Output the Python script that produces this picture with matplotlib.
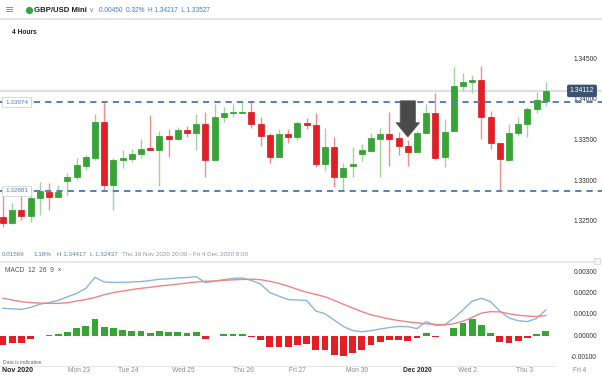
import matplotlib
matplotlib.use("Agg")
import matplotlib.pyplot as plt
import matplotlib.transforms as mtransforms
from matplotlib.patches import FancyArrow
import numpy as np

plt.rcParams['font.family'] = ['Liberation Sans', 'DejaVu Sans']

# ---------------- data ----------------
opens = [1.32561, 1.32487, 1.32647, 1.32573, 1.32795, 1.32868, 1.32807, 1.33004, 1.33053, 1.33188,
         1.33287, 1.33729, 1.32955, 1.33262, 1.33274, 1.33336, 1.33410, 1.33385, 1.33557, 1.33520,
         1.33631, 1.33594, 1.33705, 1.33262, 1.33791, 1.33840, 1.33840, 1.33852, 1.33705, 1.33570,
         1.33299, 1.33582, 1.33545, 1.33717, 1.33693, 1.33213, 1.33422, 1.33053, 1.33188, 1.33336,
         1.33373, 1.33520, 1.33582, 1.33533, 1.33434, 1.33360, 1.33594, 1.33840, 1.33299, 1.33619,
         1.34172, 1.34221, 1.34246, 1.33791, 1.33471, 1.33262, 1.33594, 1.33705, 1.33889, 1.33988]
highs = [1.32830, 1.32733, 1.32832, 1.32918, 1.32991, 1.32979, 1.32955, 1.33102, 1.33287, 1.33324,
         1.33828, 1.33988, 1.33287, 1.33385, 1.33397, 1.33520, 1.33816, 1.33619, 1.33643, 1.33668,
         1.33680, 1.33828, 1.33852, 1.33951, 1.33914, 1.33951, 1.33988, 1.33988, 1.33791, 1.33594,
         1.33643, 1.33643, 1.33742, 1.33779, 1.33840, 1.33656, 1.33545, 1.33225, 1.33422, 1.33459,
         1.33594, 1.33656, 1.33852, 1.33606, 1.33508, 1.33619, 1.33951, 1.34086, 1.33766, 1.34410,
         1.34332, 1.34308, 1.34417, 1.33865, 1.33471, 1.33705, 1.33791, 1.33914, 1.34098, 1.34221]
lows = [1.32437, 1.32475, 1.32524, 1.32499, 1.32586, 1.32647, 1.32807, 1.32832, 1.33016, 1.33139,
        1.33262, 1.32893, 1.32647, 1.33164, 1.33237, 1.33287, 1.33385, 1.32942, 1.33299, 1.33508,
        1.33545, 1.33385, 1.33053, 1.33262, 1.33729, 1.33791, 1.33840, 1.33656, 1.33434, 1.33225,
        1.33299, 1.33471, 1.33508, 1.33643, 1.33176, 1.33127, 1.32930, 1.32893, 1.33053, 1.33250,
        1.33360, 1.33053, 1.33188, 1.33324, 1.33188, 1.33360, 1.33594, 1.33262, 1.33176, 1.33619,
        1.34111, 1.34086, 1.33520, 1.33397, 1.32893, 1.33262, 1.33557, 1.33545, 1.33840, 1.33926]
closes = [1.32487, 1.32647, 1.32573, 1.32795, 1.32881, 1.32807, 1.32868, 1.33053, 1.33201, 1.33299,
          1.33729, 1.32955, 1.33262, 1.33287, 1.33336, 1.33397, 1.33385, 1.33557, 1.33520, 1.33631,
          1.33594, 1.33705, 1.33262, 1.33791, 1.33840, 1.33852, 1.33852, 1.33705, 1.33557, 1.33299,
          1.33582, 1.33545, 1.33717, 1.33693, 1.33213, 1.33422, 1.33053, 1.33164, 1.33213, 1.33385,
          1.33533, 1.33582, 1.33520, 1.33434, 1.33360, 1.33594, 1.33840, 1.33287, 1.33606, 1.34172,
          1.34221, 1.34246, 1.33791, 1.33471, 1.33274, 1.33594, 1.33705, 1.33889, 1.34000, 1.34112]

macd_line = [0.00131, 0.00128, 0.00126, 0.00135, 0.00150, 0.00158, 0.00168, 0.00185, 0.00201, 0.00225,
             0.00277, 0.00255, 0.00253, 0.00253, 0.00255, 0.00257, 0.00262, 0.00268, 0.00270, 0.00274,
             0.00276, 0.00280, 0.00252, 0.00258, 0.00266, 0.00272, 0.00274, 0.00262, 0.00245, 0.00205,
             0.00188, 0.00172, 0.00170, 0.00168, 0.00118, 0.00105, 0.00075, 0.00045, 0.00026, 0.00020,
             0.00025, 0.00033, 0.00040, 0.00045, 0.00044, 0.00035, 0.00068, 0.00050, 0.00052, 0.00085,
             0.00123, 0.00165, 0.00178, 0.00162, 0.00118, 0.00085, 0.00072, 0.00068, 0.00083, 0.00123]
signal_line = [0.00178, 0.00170, 0.00162, 0.00158, 0.00155, 0.00154, 0.00154, 0.00157, 0.00165, 0.00172,
               0.00182, 0.00195, 0.00205, 0.00212, 0.00219, 0.00225, 0.00230, 0.00236, 0.00240, 0.00245,
               0.00250, 0.00255, 0.00258, 0.00260, 0.00263, 0.00265, 0.00267, 0.00268, 0.00266, 0.00258,
               0.00248, 0.00235, 0.00220, 0.00207, 0.00196, 0.00185, 0.00168, 0.00150, 0.00132, 0.00115,
               0.00100, 0.00090, 0.00080, 0.00073, 0.00067, 0.00062, 0.00058, 0.00055, 0.00053, 0.00058,
               0.00070, 0.00088, 0.00108, 0.00115, 0.00114, 0.00105, 0.00098, 0.00094, 0.00092, 0.00097]
histogram = [-0.00042, -0.00033, -0.00031, -0.00016, 0.00001, 0.00005, 0.00011, 0.00020, 0.00036, 0.00047,
             0.00079, 0.00042, 0.00036, 0.00027, 0.00022, 0.00022, 0.00016, 0.00022, 0.00019, 0.00020,
             0.00016, 0.00019, -0.00013, -0.00002, 0.00009, 0.00011, 0.00011, -0.00005, -0.00020, -0.00050,
             -0.00050, -0.00052, -0.00044, -0.00039, -0.00068, -0.00068, -0.00090, -0.00094, -0.00082, -0.00068,
             -0.00044, -0.00028, -0.00019, -0.00020, -0.00022, -0.00008, 0.00013, -0.00006, 0.00001, 0.00039,
             0.00063, 0.00079, 0.00052, 0.00013, -0.00027, -0.00031, -0.00025, -0.00010, 0.00008, 0.00024]

resistance = 1.33974
support = 1.32881
last_price = 1.34112
price_ticks = [1.345, 1.340, 1.335, 1.330, 1.325]
macd_ticks = [0.003, 0.002, 0.001, 0.0, -0.001]
day_labels = ["Mon 23", "Tue 24", "Wed 25", "Thu 26", "Fri 27", "Mon 30", "Dec 2020", "Wed 2", "Thu 3", "Fri 4"]
day_positions = [8.3, 13.6, 19.6, 26.1, 32.0, 38.5, 45.0, 50.5, 56.7, 62.7]

# ---------------- figure ----------------
W, H = 602, 377
fig = plt.figure(figsize=(W / 100, H / 100), dpi=100)
fig.patch.set_facecolor('white')

def fx(px):
    return px / W

def fy(py):
    return 1 - py / H

px_per_candle = 9.2
x0 = 3.0
xlim = (-x0 / px_per_candle, (W - x0) / px_per_candle)

# price panel: y 40 px -> 250 px
p_top, p_bot = 40, 250
ax1 = fig.add_axes([0, fy(p_bot), 1, (p_bot - p_top) / H])
ppx = 0.000123
ax1.set_ylim(1.34 - (p_bot - 100) * ppx, 1.34 + (100 - p_top) * ppx)
ax1.set_xlim(*xlim)
ax1.axis('off')

GREEN = '#35a534'
RED = '#e31e24'
GREEN_W = '#9fd49c'
RED_W = '#f08d8d'

idx = np.arange(len(opens))
o = np.array(opens); c = np.array(closes); hi = np.array(highs); lo = np.array(lows)
up = c >= o
ax1.vlines(idx[up], lo[up], hi[up], color=GREEN_W, linewidth=1.0, zorder=2)
ax1.vlines(idx[~up], lo[~up], hi[~up], color=RED_W, linewidth=1.0, zorder=2)
bottoms = np.minimum(o, c)
heights = np.maximum(np.abs(c - o), 0.00003)
ax1.bar(idx[up], heights[up], bottom=bottoms[up], width=0.66, color=GREEN,
        edgecolor='#2e9a2e', linewidth=0.5, zorder=3)
ax1.bar(idx[~up], heights[~up], bottom=bottoms[~up], width=0.66, color=RED,
        edgecolor='#d01a1f', linewidth=0.5, zorder=3)

# current price line
ax1.axhline(last_price, color='#dcdfe3', linewidth=1.6, zorder=1)
# support/resistance dashed lines
for lvl in (resistance, support):
    ax1.axhline(lvl, color='#4f83c0', linewidth=1.4, linestyle=(0, (3.2, 2.6)), zorder=4)
    ax1.text(fx(5), lvl, f"{lvl:.5f}", transform=mtransforms.blended_transform_factory(fig.transFigure, ax1.transData),
             fontsize=4.6, color='#4f83c0', va='center', ha='left', zorder=6,
             bbox=dict(boxstyle='square,pad=0.45', facecolor='white', edgecolor='#d0d4da', linewidth=0.6))

ytrans = mtransforms.blended_transform_factory(fig.transFigure, ax1.transData)
for t in price_ticks:
    ax1.text(fx(597), t, f"{t:.5f}", transform=ytrans, fontsize=4.8, color='#333333',
             ha='right', va='center', zorder=5)
ax1.text(fx(582), last_price, f"{last_price:.5f}", transform=ytrans, fontsize=4.9, color='white',
         ha='center', va='center', zorder=7,
         bbox=dict(boxstyle='round,pad=0.3,rounding_size=0.15', facecolor='#3c5372', edgecolor='#3c5372'))

# arrow annotation (pointing down at candle ~44)
ax1.add_patch(FancyArrow(44.0, 1.33990, 0, -0.00445, width=1.65, head_width=2.55, head_length=0.00175,
                         length_includes_head=True, facecolor='#4a4a4a', edgecolor='#5e5e5e',
                         linewidth=0.6, zorder=8))

# ---------------- MACD panel ----------------
m_top, m_bot = 262, 362
ax2 = fig.add_axes([0, fy(m_bot), 1, (m_bot - m_top) / H])
mpx = 0.0000472
ax2.set_ylim(-(m_bot - 336) * mpx, (336 - m_top) * mpx)
ax2.set_xlim(*xlim)
ax2.axis('off')

hist = np.array(histogram)
cols = [GREEN if v >= 0 else RED for v in hist]
ax2.bar(idx, hist, width=0.72, color=cols, linewidth=0, zorder=2)
ax2.plot(idx, macd_line, color='#8db6de', linewidth=1.0, zorder=3)
ax2.plot(idx, signal_line, color='#f08585', linewidth=1.0, zorder=3)

mtrans = mtransforms.blended_transform_factory(fig.transFigure, ax2.transData)
for t in macd_ticks:
    ax2.text(fx(597), t, f"{t:.5f}", transform=mtrans, fontsize=4.8, color='#333333',
             ha='right', va='center')

# ---------------- text / chrome ----------------
# header
fig.add_artist(plt.Line2D([0, 1], [fy(19), fy(19)], color='#dfe2e6', linewidth=1.2))
fig.text(fx(5), fy(10), "≡", fontsize=8, color='#888888', va='center', ha='left', family='DejaVu Sans')
fig.add_artist(plt.Line2D([fx(29)], [fy(10)], marker='o', markersize=4.2, color='#2eaa3c', linestyle='none'))
fig.text(fx(34), fy(10), "GBP/USD Mini", fontsize=5.6, color='#222222', fontweight='bold', va='center', ha='left')
fig.text(fx(88), fy(10), "∨", fontsize=5, color='#888888', va='center', ha='left', family='DejaVu Sans')
fig.text(fx(99), fy(10), "0.00450  0.32%  H 1.34217  L 1.33527", fontsize=4.7, color='#3d7cc4', va='center', ha='left')
fig.text(fx(12), fy(33), "4 Hours", fontsize=4.8, color='#222222', fontweight='bold', va='center', ha='left')

# stats line
stat_color = '#5b81ad'
fig.text(fx(2), fy(255), "0.01569", fontsize=4.5, color=stat_color, va='center', ha='left')
fig.text(fx(33), fy(255), "1.18%", fontsize=4.5, color=stat_color, va='center', ha='left')
fig.text(fx(57), fy(255), "H 1.34417", fontsize=4.5, color=stat_color, va='center', ha='left')
fig.text(fx(90), fy(255), "L 1.32437", fontsize=4.5, color=stat_color, va='center', ha='left')
fig.text(fx(122), fy(255), "Thu 19 Nov 2020 20:00 - Fri 4 Dec 2020 8:00", fontsize=4.5, color='#8a98a8',
         va='center', ha='left')
fig.add_artist(plt.Line2D([0, fx(594)], [fy(262), fy(262)], color='#dfe2e6', linewidth=1.2))
fig.add_artist(plt.Rectangle((fx(594), fy(264)), fx(6), 6 / H, facecolor='#f3f3f3', edgecolor='#d0d0d0', linewidth=0.5))

fig.text(fx(5), fy(270), "MACD  12  26  9  ×", fontsize=4.8, color='#555555', va='center', ha='left')
fig.text(fx(3), fy(363), "Data is indicative", fontsize=3.6, color='#666666', va='center', ha='left')

# x axis
fig.add_artist(plt.Line2D([0, fx(555)], [fy(366), fy(366)], color='#e3e5e8', linewidth=0.8))
xtrans = mtransforms.blended_transform_factory(ax2.transData, fig.transFigure)
fig.text(fx(2), fy(371), "Nov 2020", fontsize=5, color='#222222', fontweight='bold', va='center', ha='left')
for lab, pos in zip(day_labels, day_positions):
    bold = lab.endswith('2020')
    t = ax2.text(pos, fy(371), lab, transform=xtrans, fontsize=4.8,
                 color='#222222' if bold else '#8a8a8a', fontweight='bold' if bold else 'normal',
                 ha='center', va='center')
    t.set_clip_on(False)

fig.savefig("out.png", dpi=100)
